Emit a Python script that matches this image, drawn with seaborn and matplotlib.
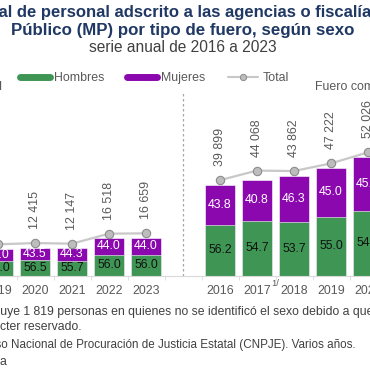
import numpy as np
import pandas as pd
import matplotlib.pyplot as plt
import matplotlib.transforms as mtransforms
from matplotlib.lines import Line2D
import seaborn as sns

### data (only the part that is visible)
fed_years = ["2019", "2020", "2021", "2022", "2023"]
fed_total = [11868, 12415, 12147, 16518, 16659]
fed_hombres = [56.0, 56.5, 55.7, 56.0, 56.0]
fed_mujeres = [44.0, 43.5, 44.3, 44.0, 44.0]

com_years = ["2016", "2017", "2018", "2019", "2020"]
com_total = [39899, 44068, 43862, 47222, 52026]
com_hombres = [56.2, 54.7, 53.7, 55.0, 54.6]
com_mujeres = [43.8, 40.8, 46.3, 45.0, 45.4]

green = "#3F9654"
purple = "#8B08AE"
gray_txt = "#595959"

sns.set_style("white")
plt.rcParams["font.family"] = ["Liberation Sans", "DejaVu Sans"]

fed_slots = ["F" + y for y in fed_years]
com_slots = ["C" + y for y in com_years]
order = fed_slots + ["gap"] + com_slots
tick_labels = fed_years + [""] + com_years

df = pd.DataFrame({
    "slot": fed_slots + com_slots,
    "total": fed_total + com_total,
    "hombres": fed_hombres + com_hombres,
    "mujeres": fed_mujeres + com_mujeres,
})
df["h_val"] = df["total"] * df["hombres"] / 100
df["hm_val"] = df["total"] * (df["hombres"] + df["mujeres"]) / 100
df["pos"] = [order.index(s) for s in df["slot"]]

fig = plt.figure(figsize=(3.7, 3.7), dpi=100)
ax = fig.add_axes([-20.5 / 370, 94 / 370, 407 / 370, 184 / 370])

sns.barplot(data=df, x="slot", y="hm_val", order=order, color=purple, saturation=1,
            width=0.8, errorbar=None, edgecolor="white", linewidth=0.4, ax=ax)
sns.barplot(data=df, x="slot", y="h_val", order=order, color=green, saturation=1,
            width=0.8, errorbar=None, edgecolor="white", linewidth=0.4, ax=ax)

ax.set_xlim(-0.5, len(order) - 0.5)
ax.set_ylim(0, 80350)

# percentages inside the bars
for _, r in df.iterrows():
    ax.text(r["pos"], r["h_val"] / 2, f"{r['hombres']:.1f}", ha="center", va="center",
            fontsize=8.8, color="#111111")
    ax.text(r["pos"], (r["h_val"] + r["hm_val"]) / 2, f"{r['mujeres']:.1f}", ha="center",
            va="center", fontsize=8.8, color="white")

# total line, a little above the bars
shift = mtransforms.offset_copy(ax.transData, fig=fig, y=4.5, units="dots")
for part in [df[df["slot"].str.startswith("F")], df[df["slot"].str.startswith("C")]]:
    ax.plot(part["pos"], part["total"], color="#C8C8C8", lw=1.6, marker="o", ms=6,
            mfc="#BDBDBD", mec="#8C8C8C", mew=0.8, transform=shift, zorder=5)
    for _, r in part.iterrows():
        ax.annotate(f"{r['total']:,}".replace(",", " "), xy=(r["pos"], r["total"]),
                    xytext=(0, 13.3), textcoords="offset points", rotation=90,
                    ha="center", va="bottom", fontsize=8.9, color=gray_txt)

ax.axvline(order.index("gap"), color="#A6A6A6", ls=(0, (2, 2)), lw=0.9)

sns.despine(ax=ax, left=True)
ax.spines["bottom"].set_color("#D9D9D9")
ax.set_yticks([])
ax.set_xlabel("")
ax.set_ylabel("")
ax.set_xticks(range(len(order)))
ax.set_xticklabels(tick_labels, fontsize=8.9, color=gray_txt)
ax.set_xticks(np.arange(0.5, len(order) - 1, 1), minor=True)
ax.tick_params(axis="x", which="major", length=0, pad=6.5)
ax.tick_params(axis="x", which="minor", length=3, color="#D9D9D9", bottom=True)

# footnote mark next to 2017
ax.annotate("1/", xy=(order.index("C2017"), 0), xycoords=("data", "axes fraction"),
            xytext=(10.3, -5.5), textcoords="offset points", ha="left", va="center",
            fontsize=6.8, color=gray_txt)

# legend
handles = [Line2D([0], [0], color=green, lw=5),
           Line2D([0], [0], color=purple, lw=5),
           Line2D([0], [0], color="#C8C8C8", lw=1.5, marker="o", ms=4.5,
                  mfc="#BDBDBD", mec="#8C8C8C", mew=0.7)]
fig.legend(handles, ["Hombres", "Mujeres", "Total"], loc="center left",
           bbox_to_anchor=(20 / 370, 1 - 78 / 370), ncol=3, frameon=False,
           borderpad=0, borderaxespad=0, handlelength=2.4, handletextpad=0.35,
           columnspacing=1.85, fontsize=8.9, labelcolor=gray_txt)

fig.text(2 / 370, 1 - 87 / 370, "Fuero federal", ha="right", va="center", fontsize=8.9, color=gray_txt)
fig.text(315 / 370, 1 - 87 / 370, "Fuero común", ha="left", va="center", fontsize=8.9, color=gray_txt)

# titles
navy = "#1F3864"
fig.text(-26 / 370, 1 - 12 / 370, "Total de personal adscrito a las agencias o fiscalías del Ministerio",
         ha="left", va="center", fontsize=12.0, fontweight="bold", color=navy)
fig.text(183 / 370, 1 - 30 / 370, "Público (MP) por tipo de fuero, según sexo",
         ha="center", va="center", fontsize=12.2, fontweight="bold", color=navy)
fig.text(183 / 370, 1 - 47 / 370, "serie anual de 2016 a 2023",
         ha="center", va="center", fontsize=11.2, color="#404040")

# notes
note_kw = dict(ha="left", va="center", color="#404040")
fig.text(-19 / 370, 1 - 312 / 370,
         "Incluye 1 819 personas en quienes no se identificó el sexo debido a que la información tiene",
         fontsize=8.8, **note_kw)
fig.text(-24 / 370, 1 - 327 / 370, "carácter reservado.", fontsize=8.8, **note_kw)
fig.text(-26 / 370, 1 - 345 / 370,
         "Censo Nacional de Procuración de Justicia Estatal (CNPJE). Varios años.",
         fontsize=8.4, **note_kw)
fig.text(-19 / 370, 1 - 362 / 370, "Nota", fontsize=8.8, **note_kw)

fig.savefig("out.png", dpi=100)
